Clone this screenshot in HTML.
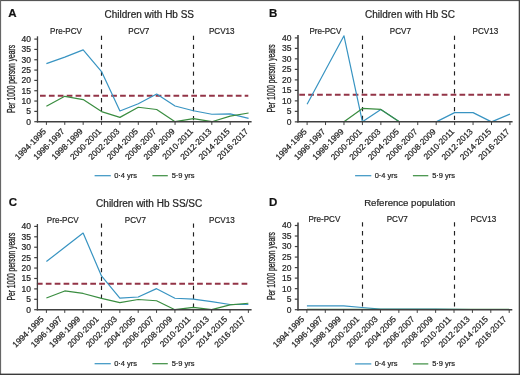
<!DOCTYPE html>
<html><head><meta charset="utf-8"><style>
html,body{margin:0;padding:0;background:#fff;width:520px;height:375px;overflow:hidden}
svg text{font-family:"Liberation Sans", sans-serif;stroke:#2a2a2a;stroke-width:0.22px}
</style></head><body>
<svg width="520" height="375" viewBox="0 0 520 375" style="position:absolute;left:0;top:0">
<rect x="0" y="0" width="520" height="375" fill="#fff"/>
<g><line x1="34.30" y1="121.70" x2="37.50" y2="121.70" stroke="#404040" stroke-width="1.2"/>
<line x1="34.30" y1="111.38" x2="37.50" y2="111.38" stroke="#404040" stroke-width="1.2"/>
<line x1="34.30" y1="101.05" x2="37.50" y2="101.05" stroke="#404040" stroke-width="1.2"/>
<line x1="34.30" y1="90.73" x2="37.50" y2="90.73" stroke="#404040" stroke-width="1.2"/>
<line x1="34.30" y1="80.40" x2="37.50" y2="80.40" stroke="#404040" stroke-width="1.2"/>
<line x1="34.30" y1="70.08" x2="37.50" y2="70.08" stroke="#404040" stroke-width="1.2"/>
<line x1="34.30" y1="59.75" x2="37.50" y2="59.75" stroke="#404040" stroke-width="1.2"/>
<line x1="34.30" y1="49.43" x2="37.50" y2="49.43" stroke="#404040" stroke-width="1.2"/>
<line x1="34.30" y1="39.10" x2="37.50" y2="39.10" stroke="#404040" stroke-width="1.2"/>
<line x1="40.00" y1="95.68" x2="248.30" y2="95.68" stroke="#933447" stroke-width="2" stroke-dasharray="5.7 3.2"/>
<line x1="101.50" y1="35.80" x2="101.50" y2="121.70" stroke="#222" stroke-width="1.15" stroke-dasharray="4.3 4.6"/>
<line x1="193.50" y1="35.80" x2="193.50" y2="121.70" stroke="#222" stroke-width="1.15" stroke-dasharray="4.3 4.6"/>
<polyline points="46.40,63.67 64.78,57.07 83.16,49.84 101.54,71.52 119.92,110.96 138.30,103.73 156.68,94.03 175.06,106.01 193.44,110.76 211.82,114.27 230.20,113.85 248.58,118.40" fill="none" stroke="#3894c2" stroke-width="1.2" stroke-linejoin="round"/>
<polyline points="46.40,106.21 64.78,96.30 83.16,99.60 101.54,111.58 119.92,117.36 138.30,107.25 156.68,109.52 175.06,121.70 193.44,118.60 211.82,121.70 230.20,116.12 248.58,113.03" fill="none" stroke="#3a8d40" stroke-width="1.2" stroke-linejoin="round"/>
<line x1="37.50" y1="36.30" x2="37.50" y2="122.40" stroke="#404040" stroke-width="1.3"/>
<line x1="36.90" y1="121.70" x2="251.60" y2="121.70" stroke="#404040" stroke-width="1.5"/>
<line x1="46.40" y1="121.70" x2="46.40" y2="124.90" stroke="#404040" stroke-width="1"/>
<line x1="64.78" y1="121.70" x2="64.78" y2="124.90" stroke="#404040" stroke-width="1"/>
<line x1="83.16" y1="121.70" x2="83.16" y2="124.90" stroke="#404040" stroke-width="1"/>
<line x1="101.54" y1="121.70" x2="101.54" y2="124.90" stroke="#404040" stroke-width="1"/>
<line x1="119.92" y1="121.70" x2="119.92" y2="124.90" stroke="#404040" stroke-width="1"/>
<line x1="138.30" y1="121.70" x2="138.30" y2="124.90" stroke="#404040" stroke-width="1"/>
<line x1="156.68" y1="121.70" x2="156.68" y2="124.90" stroke="#404040" stroke-width="1"/>
<line x1="175.06" y1="121.70" x2="175.06" y2="124.90" stroke="#404040" stroke-width="1"/>
<line x1="193.44" y1="121.70" x2="193.44" y2="124.90" stroke="#404040" stroke-width="1"/>
<line x1="211.82" y1="121.70" x2="211.82" y2="124.90" stroke="#404040" stroke-width="1"/>
<line x1="230.20" y1="121.70" x2="230.20" y2="124.90" stroke="#404040" stroke-width="1"/>
<line x1="248.58" y1="121.70" x2="248.58" y2="124.90" stroke="#404040" stroke-width="1"/>
<line x1="94.60" y1="175.70" x2="110.80" y2="175.70" stroke="#3894c2" stroke-width="1.2"/>
<line x1="152.40" y1="175.70" x2="167.80" y2="175.70" stroke="#3a8d40" stroke-width="1.2"/></g>
<g><line x1="294.80" y1="121.85" x2="298.00" y2="121.85" stroke="#404040" stroke-width="1.2"/>
<line x1="294.80" y1="111.36" x2="298.00" y2="111.36" stroke="#404040" stroke-width="1.2"/>
<line x1="294.80" y1="100.86" x2="298.00" y2="100.86" stroke="#404040" stroke-width="1.2"/>
<line x1="294.80" y1="90.37" x2="298.00" y2="90.37" stroke="#404040" stroke-width="1.2"/>
<line x1="294.80" y1="79.88" x2="298.00" y2="79.88" stroke="#404040" stroke-width="1.2"/>
<line x1="294.80" y1="69.38" x2="298.00" y2="69.38" stroke="#404040" stroke-width="1.2"/>
<line x1="294.80" y1="58.89" x2="298.00" y2="58.89" stroke="#404040" stroke-width="1.2"/>
<line x1="294.80" y1="48.39" x2="298.00" y2="48.39" stroke="#404040" stroke-width="1.2"/>
<line x1="294.80" y1="37.90" x2="298.00" y2="37.90" stroke="#404040" stroke-width="1.2"/>
<line x1="299.30" y1="94.78" x2="510.30" y2="94.78" stroke="#933447" stroke-width="2" stroke-dasharray="5.7 3.2"/>
<line x1="362.50" y1="35.70" x2="362.50" y2="121.85" stroke="#222" stroke-width="1.15" stroke-dasharray="4.3 4.6"/>
<line x1="454.50" y1="35.70" x2="454.50" y2="121.85" stroke="#222" stroke-width="1.15" stroke-dasharray="4.3 4.6"/>
<polyline points="307.10,104.22 325.54,70.01 343.98,35.80 362.42,121.85 380.86,109.47 399.30,121.85" fill="none" stroke="#3894c2" stroke-width="1.2" stroke-linejoin="round"/>
<polyline points="436.18,121.85 454.62,112.62 473.06,112.62 491.50,121.85 509.94,114.08" fill="none" stroke="#3894c2" stroke-width="1.2" stroke-linejoin="round"/>
<polyline points="343.98,121.85 362.42,108.42 380.86,109.47 399.30,121.85" fill="none" stroke="#3a8d40" stroke-width="1.2" stroke-linejoin="round"/>
<line x1="298.00" y1="35.00" x2="298.00" y2="122.55" stroke="#404040" stroke-width="1.6"/>
<line x1="297.40" y1="121.85" x2="512.60" y2="121.85" stroke="#404040" stroke-width="1.5"/>
<line x1="307.10" y1="121.85" x2="307.10" y2="125.05" stroke="#404040" stroke-width="1"/>
<line x1="325.54" y1="121.85" x2="325.54" y2="125.05" stroke="#404040" stroke-width="1"/>
<line x1="343.98" y1="121.85" x2="343.98" y2="125.05" stroke="#404040" stroke-width="1"/>
<line x1="362.42" y1="121.85" x2="362.42" y2="125.05" stroke="#404040" stroke-width="1"/>
<line x1="380.86" y1="121.85" x2="380.86" y2="125.05" stroke="#404040" stroke-width="1"/>
<line x1="399.30" y1="121.85" x2="399.30" y2="125.05" stroke="#404040" stroke-width="1"/>
<line x1="417.74" y1="121.85" x2="417.74" y2="125.05" stroke="#404040" stroke-width="1"/>
<line x1="436.18" y1="121.85" x2="436.18" y2="125.05" stroke="#404040" stroke-width="1"/>
<line x1="454.62" y1="121.85" x2="454.62" y2="125.05" stroke="#404040" stroke-width="1"/>
<line x1="473.06" y1="121.85" x2="473.06" y2="125.05" stroke="#404040" stroke-width="1"/>
<line x1="491.50" y1="121.85" x2="491.50" y2="125.05" stroke="#404040" stroke-width="1"/>
<line x1="509.94" y1="121.85" x2="509.94" y2="125.05" stroke="#404040" stroke-width="1"/>
<line x1="355.10" y1="175.70" x2="371.30" y2="175.70" stroke="#3894c2" stroke-width="1.2"/>
<line x1="412.90" y1="175.70" x2="428.30" y2="175.70" stroke="#3a8d40" stroke-width="1.2"/></g>
<g><line x1="34.20" y1="309.70" x2="37.40" y2="309.70" stroke="#404040" stroke-width="1.2"/>
<line x1="34.20" y1="299.29" x2="37.40" y2="299.29" stroke="#404040" stroke-width="1.2"/>
<line x1="34.20" y1="288.88" x2="37.40" y2="288.88" stroke="#404040" stroke-width="1.2"/>
<line x1="34.20" y1="278.46" x2="37.40" y2="278.46" stroke="#404040" stroke-width="1.2"/>
<line x1="34.20" y1="268.05" x2="37.40" y2="268.05" stroke="#404040" stroke-width="1.2"/>
<line x1="34.20" y1="257.64" x2="37.40" y2="257.64" stroke="#404040" stroke-width="1.2"/>
<line x1="34.20" y1="247.22" x2="37.40" y2="247.22" stroke="#404040" stroke-width="1.2"/>
<line x1="34.20" y1="236.81" x2="37.40" y2="236.81" stroke="#404040" stroke-width="1.2"/>
<line x1="34.20" y1="226.40" x2="37.40" y2="226.40" stroke="#404040" stroke-width="1.2"/>
<line x1="36.90" y1="283.77" x2="247.50" y2="283.77" stroke="#933447" stroke-width="2" stroke-dasharray="5.7 3.2"/>
<line x1="101.50" y1="223.40" x2="101.50" y2="309.70" stroke="#222" stroke-width="1.15" stroke-dasharray="4.3 4.6"/>
<line x1="193.50" y1="223.40" x2="193.50" y2="309.70" stroke="#222" stroke-width="1.15" stroke-dasharray="4.3 4.6"/>
<polyline points="46.40,261.59 64.76,247.22 83.12,233.06 101.48,275.96 119.84,298.04 138.20,297.00 156.56,288.67 174.92,298.25 193.28,299.08 211.64,301.58 230.00,304.49 248.36,304.49" fill="none" stroke="#3894c2" stroke-width="1.2" stroke-linejoin="round"/>
<polyline points="46.40,298.04 64.76,290.96 83.12,293.46 101.48,298.45 119.84,302.62 138.20,299.50 156.56,300.75 174.92,309.70 193.28,307.41 211.64,309.70 230.00,304.91 248.36,303.24" fill="none" stroke="#3a8d40" stroke-width="1.2" stroke-linejoin="round"/>
<line x1="37.40" y1="224.00" x2="37.40" y2="310.40" stroke="#404040" stroke-width="1.3"/>
<line x1="36.80" y1="309.70" x2="251.60" y2="309.70" stroke="#404040" stroke-width="1.5"/>
<line x1="46.40" y1="309.70" x2="46.40" y2="312.90" stroke="#404040" stroke-width="1"/>
<line x1="64.76" y1="309.70" x2="64.76" y2="312.90" stroke="#404040" stroke-width="1"/>
<line x1="83.12" y1="309.70" x2="83.12" y2="312.90" stroke="#404040" stroke-width="1"/>
<line x1="101.48" y1="309.70" x2="101.48" y2="312.90" stroke="#404040" stroke-width="1"/>
<line x1="119.84" y1="309.70" x2="119.84" y2="312.90" stroke="#404040" stroke-width="1"/>
<line x1="138.20" y1="309.70" x2="138.20" y2="312.90" stroke="#404040" stroke-width="1"/>
<line x1="156.56" y1="309.70" x2="156.56" y2="312.90" stroke="#404040" stroke-width="1"/>
<line x1="174.92" y1="309.70" x2="174.92" y2="312.90" stroke="#404040" stroke-width="1"/>
<line x1="193.28" y1="309.70" x2="193.28" y2="312.90" stroke="#404040" stroke-width="1"/>
<line x1="211.64" y1="309.70" x2="211.64" y2="312.90" stroke="#404040" stroke-width="1"/>
<line x1="230.00" y1="309.70" x2="230.00" y2="312.90" stroke="#404040" stroke-width="1"/>
<line x1="248.36" y1="309.70" x2="248.36" y2="312.90" stroke="#404040" stroke-width="1"/>
<line x1="94.60" y1="363.70" x2="110.80" y2="363.70" stroke="#3894c2" stroke-width="1.2"/>
<line x1="152.40" y1="363.70" x2="167.80" y2="363.70" stroke="#3a8d40" stroke-width="1.2"/></g>
<g><line x1="294.80" y1="309.70" x2="298.00" y2="309.70" stroke="#404040" stroke-width="1.2"/>
<line x1="294.80" y1="299.18" x2="298.00" y2="299.18" stroke="#404040" stroke-width="1.2"/>
<line x1="294.80" y1="288.65" x2="298.00" y2="288.65" stroke="#404040" stroke-width="1.2"/>
<line x1="294.80" y1="278.12" x2="298.00" y2="278.12" stroke="#404040" stroke-width="1.2"/>
<line x1="294.80" y1="267.60" x2="298.00" y2="267.60" stroke="#404040" stroke-width="1.2"/>
<line x1="294.80" y1="257.07" x2="298.00" y2="257.07" stroke="#404040" stroke-width="1.2"/>
<line x1="294.80" y1="246.55" x2="298.00" y2="246.55" stroke="#404040" stroke-width="1.2"/>
<line x1="294.80" y1="236.03" x2="298.00" y2="236.03" stroke="#404040" stroke-width="1.2"/>
<line x1="294.80" y1="225.50" x2="298.00" y2="225.50" stroke="#404040" stroke-width="1.2"/>
<line x1="362.50" y1="222.20" x2="362.50" y2="309.70" stroke="#222" stroke-width="1.15" stroke-dasharray="4.3 4.6"/>
<line x1="454.50" y1="222.20" x2="454.50" y2="309.70" stroke="#222" stroke-width="1.15" stroke-dasharray="4.3 4.6"/>
<polyline points="306.90,305.91 325.29,305.91 343.68,305.91 362.07,307.49 380.46,309.07 398.85,309.07 417.24,309.07 435.63,309.07 454.02,309.28 472.41,309.49 490.80,309.49 509.19,309.49" fill="none" stroke="#3894c2" stroke-width="1.2" stroke-linejoin="round"/>
<polyline points="306.90,309.28 325.29,309.28 343.68,309.28 362.07,309.28 380.46,309.28 398.85,309.28 417.24,309.28 435.63,309.28 454.02,309.28 472.41,309.28 490.80,309.28 509.19,309.28" fill="none" stroke="#3a8d40" stroke-width="1.2" stroke-linejoin="round"/>
<line x1="298.00" y1="222.60" x2="298.00" y2="310.40" stroke="#404040" stroke-width="1.6"/>
<line x1="297.40" y1="309.70" x2="512.30" y2="309.70" stroke="#404040" stroke-width="1.5"/>
<line x1="306.90" y1="309.70" x2="306.90" y2="312.90" stroke="#404040" stroke-width="1"/>
<line x1="325.29" y1="309.70" x2="325.29" y2="312.90" stroke="#404040" stroke-width="1"/>
<line x1="343.68" y1="309.70" x2="343.68" y2="312.90" stroke="#404040" stroke-width="1"/>
<line x1="362.07" y1="309.70" x2="362.07" y2="312.90" stroke="#404040" stroke-width="1"/>
<line x1="380.46" y1="309.70" x2="380.46" y2="312.90" stroke="#404040" stroke-width="1"/>
<line x1="398.85" y1="309.70" x2="398.85" y2="312.90" stroke="#404040" stroke-width="1"/>
<line x1="417.24" y1="309.70" x2="417.24" y2="312.90" stroke="#404040" stroke-width="1"/>
<line x1="435.63" y1="309.70" x2="435.63" y2="312.90" stroke="#404040" stroke-width="1"/>
<line x1="454.02" y1="309.70" x2="454.02" y2="312.90" stroke="#404040" stroke-width="1"/>
<line x1="472.41" y1="309.70" x2="472.41" y2="312.90" stroke="#404040" stroke-width="1"/>
<line x1="490.80" y1="309.70" x2="490.80" y2="312.90" stroke="#404040" stroke-width="1"/>
<line x1="509.19" y1="309.70" x2="509.19" y2="312.90" stroke="#404040" stroke-width="1"/>
<line x1="355.10" y1="363.90" x2="371.30" y2="363.90" stroke="#3894c2" stroke-width="1.2"/>
<line x1="412.90" y1="363.90" x2="428.30" y2="363.90" stroke="#3a8d40" stroke-width="1.2"/></g>
<rect x="0" y="0" width="520" height="1.1" fill="#555"/>
<rect x="0" y="0" width="1.1" height="375" fill="#666"/>
<rect x="518.7" y="0" width="1.3" height="375" fill="#444"/>
<rect x="0" y="373.6" width="520" height="1.4" fill="#3a3a3a"/>
</svg>
<svg width="520" height="375" viewBox="0 0 520 375" style="position:absolute;left:0;top:0;filter:grayscale(1)">
<text x="8.20" y="17.10" font-size="11.5" font-weight="bold" fill="#111" stroke="#111" stroke-width="0.45">A</text>
<text x="149.30" y="17.70" font-size="10" text-anchor="middle" fill="#222222">Children with Hb SS</text>
<text transform="translate(66.00,33.70) scale(0.9,1)" font-size="9" text-anchor="middle" fill="#222222">Pre-PCV</text>
<text transform="translate(138.80,33.70) scale(0.9,1)" font-size="9" text-anchor="middle" fill="#222222">PCV7</text>
<text transform="translate(221.75,33.70) scale(0.9,1)" font-size="9" text-anchor="middle" fill="#222222">PCV13</text>
<text transform="translate(14.80,78.90) rotate(-90)" font-size="10" text-anchor="middle" textLength="68" lengthAdjust="spacingAndGlyphs" fill="#222222" style="stroke-width:0.32px">Per 1000 person years</text>
<text x="31.00" y="124.60" font-size="8.5" text-anchor="end" fill="#222222">0</text>
<text x="31.00" y="114.28" font-size="8.5" text-anchor="end" fill="#222222">5</text>
<text x="31.00" y="103.95" font-size="8.5" text-anchor="end" fill="#222222">10</text>
<text x="31.00" y="93.63" font-size="8.5" text-anchor="end" fill="#222222">15</text>
<text x="31.00" y="83.30" font-size="8.5" text-anchor="end" fill="#222222">20</text>
<text x="31.00" y="72.98" font-size="8.5" text-anchor="end" fill="#222222">25</text>
<text x="31.00" y="62.65" font-size="8.5" text-anchor="end" fill="#222222">30</text>
<text x="31.00" y="52.33" font-size="8.5" text-anchor="end" fill="#222222">35</text>
<text x="31.00" y="42.00" font-size="8.5" text-anchor="end" fill="#222222">40</text>
<text transform="translate(46.60,132.00) rotate(-45)" font-size="8.4" text-anchor="end" fill="#222222">1994·1995</text>
<text transform="translate(64.98,132.00) rotate(-45)" font-size="8.4" text-anchor="end" fill="#222222">1996·1997</text>
<text transform="translate(83.36,132.00) rotate(-45)" font-size="8.4" text-anchor="end" fill="#222222">1998·1999</text>
<text transform="translate(101.74,132.00) rotate(-45)" font-size="8.4" text-anchor="end" fill="#222222">2000·2001</text>
<text transform="translate(120.12,132.00) rotate(-45)" font-size="8.4" text-anchor="end" fill="#222222">2002·2003</text>
<text transform="translate(138.50,132.00) rotate(-45)" font-size="8.4" text-anchor="end" fill="#222222">2004·2005</text>
<text transform="translate(156.88,132.00) rotate(-45)" font-size="8.4" text-anchor="end" fill="#222222">2006·2007</text>
<text transform="translate(175.26,132.00) rotate(-45)" font-size="8.4" text-anchor="end" fill="#222222">2008·2009</text>
<text transform="translate(193.64,132.00) rotate(-45)" font-size="8.4" text-anchor="end" fill="#222222">2010·2011</text>
<text transform="translate(212.02,132.00) rotate(-45)" font-size="8.4" text-anchor="end" fill="#222222">2012·2013</text>
<text transform="translate(230.40,132.00) rotate(-45)" font-size="8.4" text-anchor="end" fill="#222222">2014·2015</text>
<text transform="translate(248.78,132.00) rotate(-45)" font-size="8.4" text-anchor="end" fill="#222222">2016·2017</text>
<text x="114.20" y="178.10" font-size="7.5" fill="#222222">0·4 yrs</text>
<text x="171.70" y="178.10" font-size="7.5" fill="#222222">5·9 yrs</text>
<text x="268.90" y="17.10" font-size="11.5" font-weight="bold" fill="#111" stroke="#111" stroke-width="0.45">B</text>
<text x="410.00" y="17.70" font-size="10" text-anchor="middle" fill="#222222">Children with Hb SC</text>
<text transform="translate(325.40,33.90) scale(0.9,1)" font-size="9" text-anchor="middle" fill="#222222">Pre-PCV</text>
<text transform="translate(400.40,33.90) scale(0.9,1)" font-size="9" text-anchor="middle" fill="#222222">PCV7</text>
<text transform="translate(485.40,33.90) scale(0.9,1)" font-size="9" text-anchor="middle" fill="#222222">PCV13</text>
<text transform="translate(275.30,78.38) rotate(-90)" font-size="10" text-anchor="middle" textLength="68" lengthAdjust="spacingAndGlyphs" fill="#222222" style="stroke-width:0.32px">Per 1000 person years</text>
<text x="291.50" y="124.75" font-size="8.5" text-anchor="end" fill="#222222">0</text>
<text x="291.50" y="114.26" font-size="8.5" text-anchor="end" fill="#222222">5</text>
<text x="291.50" y="103.76" font-size="8.5" text-anchor="end" fill="#222222">10</text>
<text x="291.50" y="93.27" font-size="8.5" text-anchor="end" fill="#222222">15</text>
<text x="291.50" y="82.78" font-size="8.5" text-anchor="end" fill="#222222">20</text>
<text x="291.50" y="72.28" font-size="8.5" text-anchor="end" fill="#222222">25</text>
<text x="291.50" y="61.79" font-size="8.5" text-anchor="end" fill="#222222">30</text>
<text x="291.50" y="51.29" font-size="8.5" text-anchor="end" fill="#222222">35</text>
<text x="291.50" y="40.80" font-size="8.5" text-anchor="end" fill="#222222">40</text>
<text transform="translate(307.30,132.15) rotate(-45)" font-size="8.4" text-anchor="end" fill="#222222">1994·1995</text>
<text transform="translate(325.74,132.15) rotate(-45)" font-size="8.4" text-anchor="end" fill="#222222">1996·1997</text>
<text transform="translate(344.18,132.15) rotate(-45)" font-size="8.4" text-anchor="end" fill="#222222">1998·1999</text>
<text transform="translate(362.62,132.15) rotate(-45)" font-size="8.4" text-anchor="end" fill="#222222">2000·2001</text>
<text transform="translate(381.06,132.15) rotate(-45)" font-size="8.4" text-anchor="end" fill="#222222">2002·2003</text>
<text transform="translate(399.50,132.15) rotate(-45)" font-size="8.4" text-anchor="end" fill="#222222">2004·2005</text>
<text transform="translate(417.94,132.15) rotate(-45)" font-size="8.4" text-anchor="end" fill="#222222">2006·2007</text>
<text transform="translate(436.38,132.15) rotate(-45)" font-size="8.4" text-anchor="end" fill="#222222">2008·2009</text>
<text transform="translate(454.82,132.15) rotate(-45)" font-size="8.4" text-anchor="end" fill="#222222">2010·2011</text>
<text transform="translate(473.26,132.15) rotate(-45)" font-size="8.4" text-anchor="end" fill="#222222">2012·2013</text>
<text transform="translate(491.70,132.15) rotate(-45)" font-size="8.4" text-anchor="end" fill="#222222">2014·2015</text>
<text transform="translate(510.14,132.15) rotate(-45)" font-size="8.4" text-anchor="end" fill="#222222">2016·2017</text>
<text x="374.70" y="178.10" font-size="7.5" fill="#222222">0·4 yrs</text>
<text x="432.20" y="178.10" font-size="7.5" fill="#222222">5·9 yrs</text>
<text x="8.80" y="206.00" font-size="11.5" font-weight="bold" fill="#111" stroke="#111" stroke-width="0.45">C</text>
<text x="149.20" y="207.00" font-size="10" text-anchor="middle" fill="#222222">Children with Hb SS/SC</text>
<text transform="translate(62.75,222.90) scale(0.9,1)" font-size="9" text-anchor="middle" fill="#222222">Pre-PCV</text>
<text transform="translate(135.40,222.90) scale(0.9,1)" font-size="9" text-anchor="middle" fill="#222222">PCV7</text>
<text transform="translate(221.90,222.90) scale(0.9,1)" font-size="9" text-anchor="middle" fill="#222222">PCV13</text>
<text transform="translate(14.80,266.55) rotate(-90)" font-size="10" text-anchor="middle" textLength="68" lengthAdjust="spacingAndGlyphs" fill="#222222" style="stroke-width:0.32px">Per 1000 person years</text>
<text x="30.90" y="312.60" font-size="8.5" text-anchor="end" fill="#222222">0</text>
<text x="30.90" y="302.19" font-size="8.5" text-anchor="end" fill="#222222">5</text>
<text x="30.90" y="291.77" font-size="8.5" text-anchor="end" fill="#222222">10</text>
<text x="30.90" y="281.36" font-size="8.5" text-anchor="end" fill="#222222">15</text>
<text x="30.90" y="270.95" font-size="8.5" text-anchor="end" fill="#222222">20</text>
<text x="30.90" y="260.54" font-size="8.5" text-anchor="end" fill="#222222">25</text>
<text x="30.90" y="250.12" font-size="8.5" text-anchor="end" fill="#222222">30</text>
<text x="30.90" y="239.71" font-size="8.5" text-anchor="end" fill="#222222">35</text>
<text x="30.90" y="229.30" font-size="8.5" text-anchor="end" fill="#222222">40</text>
<text transform="translate(44.20,319.70) rotate(-45)" font-size="8.4" text-anchor="end" fill="#222222">1994·1995</text>
<text transform="translate(62.56,319.70) rotate(-45)" font-size="8.4" text-anchor="end" fill="#222222">1996·1997</text>
<text transform="translate(80.92,319.70) rotate(-45)" font-size="8.4" text-anchor="end" fill="#222222">1998·1999</text>
<text transform="translate(99.28,319.70) rotate(-45)" font-size="8.4" text-anchor="end" fill="#222222">2000·2001</text>
<text transform="translate(117.64,319.70) rotate(-45)" font-size="8.4" text-anchor="end" fill="#222222">2002·2003</text>
<text transform="translate(136.00,319.70) rotate(-45)" font-size="8.4" text-anchor="end" fill="#222222">2004·2005</text>
<text transform="translate(154.36,319.70) rotate(-45)" font-size="8.4" text-anchor="end" fill="#222222">2006·2007</text>
<text transform="translate(172.72,319.70) rotate(-45)" font-size="8.4" text-anchor="end" fill="#222222">2008·2009</text>
<text transform="translate(191.08,319.70) rotate(-45)" font-size="8.4" text-anchor="end" fill="#222222">2010·2011</text>
<text transform="translate(209.44,319.70) rotate(-45)" font-size="8.4" text-anchor="end" fill="#222222">2012·2013</text>
<text transform="translate(227.80,319.70) rotate(-45)" font-size="8.4" text-anchor="end" fill="#222222">2014·2015</text>
<text transform="translate(246.16,319.70) rotate(-45)" font-size="8.4" text-anchor="end" fill="#222222">2016·2017</text>
<text x="114.20" y="366.10" font-size="7.5" fill="#222222">0·4 yrs</text>
<text x="171.70" y="366.10" font-size="7.5" fill="#222222">5·9 yrs</text>
<text x="268.90" y="206.00" font-size="11.5" font-weight="bold" fill="#111" stroke="#111" stroke-width="0.45">D</text>
<text x="409.80" y="206.30" font-size="9.6" text-anchor="middle" fill="#222222">Reference population</text>
<text transform="translate(324.40,222.40) scale(0.9,1)" font-size="9" text-anchor="middle" fill="#222222">Pre-PCV</text>
<text transform="translate(397.25,222.40) scale(0.9,1)" font-size="9" text-anchor="middle" fill="#222222">PCV7</text>
<text transform="translate(483.40,222.40) scale(0.9,1)" font-size="9" text-anchor="middle" fill="#222222">PCV13</text>
<text transform="translate(275.30,266.10) rotate(-90)" font-size="10" text-anchor="middle" textLength="68" lengthAdjust="spacingAndGlyphs" fill="#222222" style="stroke-width:0.32px">Per 1000 person years</text>
<text x="291.50" y="312.60" font-size="8.5" text-anchor="end" fill="#222222">0</text>
<text x="291.50" y="302.07" font-size="8.5" text-anchor="end" fill="#222222">5</text>
<text x="291.50" y="291.55" font-size="8.5" text-anchor="end" fill="#222222">10</text>
<text x="291.50" y="281.02" font-size="8.5" text-anchor="end" fill="#222222">15</text>
<text x="291.50" y="270.50" font-size="8.5" text-anchor="end" fill="#222222">20</text>
<text x="291.50" y="259.97" font-size="8.5" text-anchor="end" fill="#222222">25</text>
<text x="291.50" y="249.45" font-size="8.5" text-anchor="end" fill="#222222">30</text>
<text x="291.50" y="238.93" font-size="8.5" text-anchor="end" fill="#222222">35</text>
<text x="291.50" y="228.40" font-size="8.5" text-anchor="end" fill="#222222">40</text>
<text transform="translate(304.70,319.70) rotate(-45)" font-size="8.4" text-anchor="end" fill="#222222">1994·1995</text>
<text transform="translate(323.09,319.70) rotate(-45)" font-size="8.4" text-anchor="end" fill="#222222">1996·1997</text>
<text transform="translate(341.48,319.70) rotate(-45)" font-size="8.4" text-anchor="end" fill="#222222">1998·1999</text>
<text transform="translate(359.87,319.70) rotate(-45)" font-size="8.4" text-anchor="end" fill="#222222">2000·2001</text>
<text transform="translate(378.26,319.70) rotate(-45)" font-size="8.4" text-anchor="end" fill="#222222">2002·2003</text>
<text transform="translate(396.65,319.70) rotate(-45)" font-size="8.4" text-anchor="end" fill="#222222">2004·2005</text>
<text transform="translate(415.04,319.70) rotate(-45)" font-size="8.4" text-anchor="end" fill="#222222">2006·2007</text>
<text transform="translate(433.43,319.70) rotate(-45)" font-size="8.4" text-anchor="end" fill="#222222">2008·2009</text>
<text transform="translate(451.82,319.70) rotate(-45)" font-size="8.4" text-anchor="end" fill="#222222">2010·2011</text>
<text transform="translate(470.21,319.70) rotate(-45)" font-size="8.4" text-anchor="end" fill="#222222">2012·2013</text>
<text transform="translate(488.60,319.70) rotate(-45)" font-size="8.4" text-anchor="end" fill="#222222">2014·2015</text>
<text transform="translate(506.99,319.70) rotate(-45)" font-size="8.4" text-anchor="end" fill="#222222">2016·2017</text>
<text x="374.70" y="366.30" font-size="7.5" fill="#222222">0·4 yrs</text>
<text x="432.20" y="366.30" font-size="7.5" fill="#222222">5·9 yrs</text>
</svg>
</body></html>
